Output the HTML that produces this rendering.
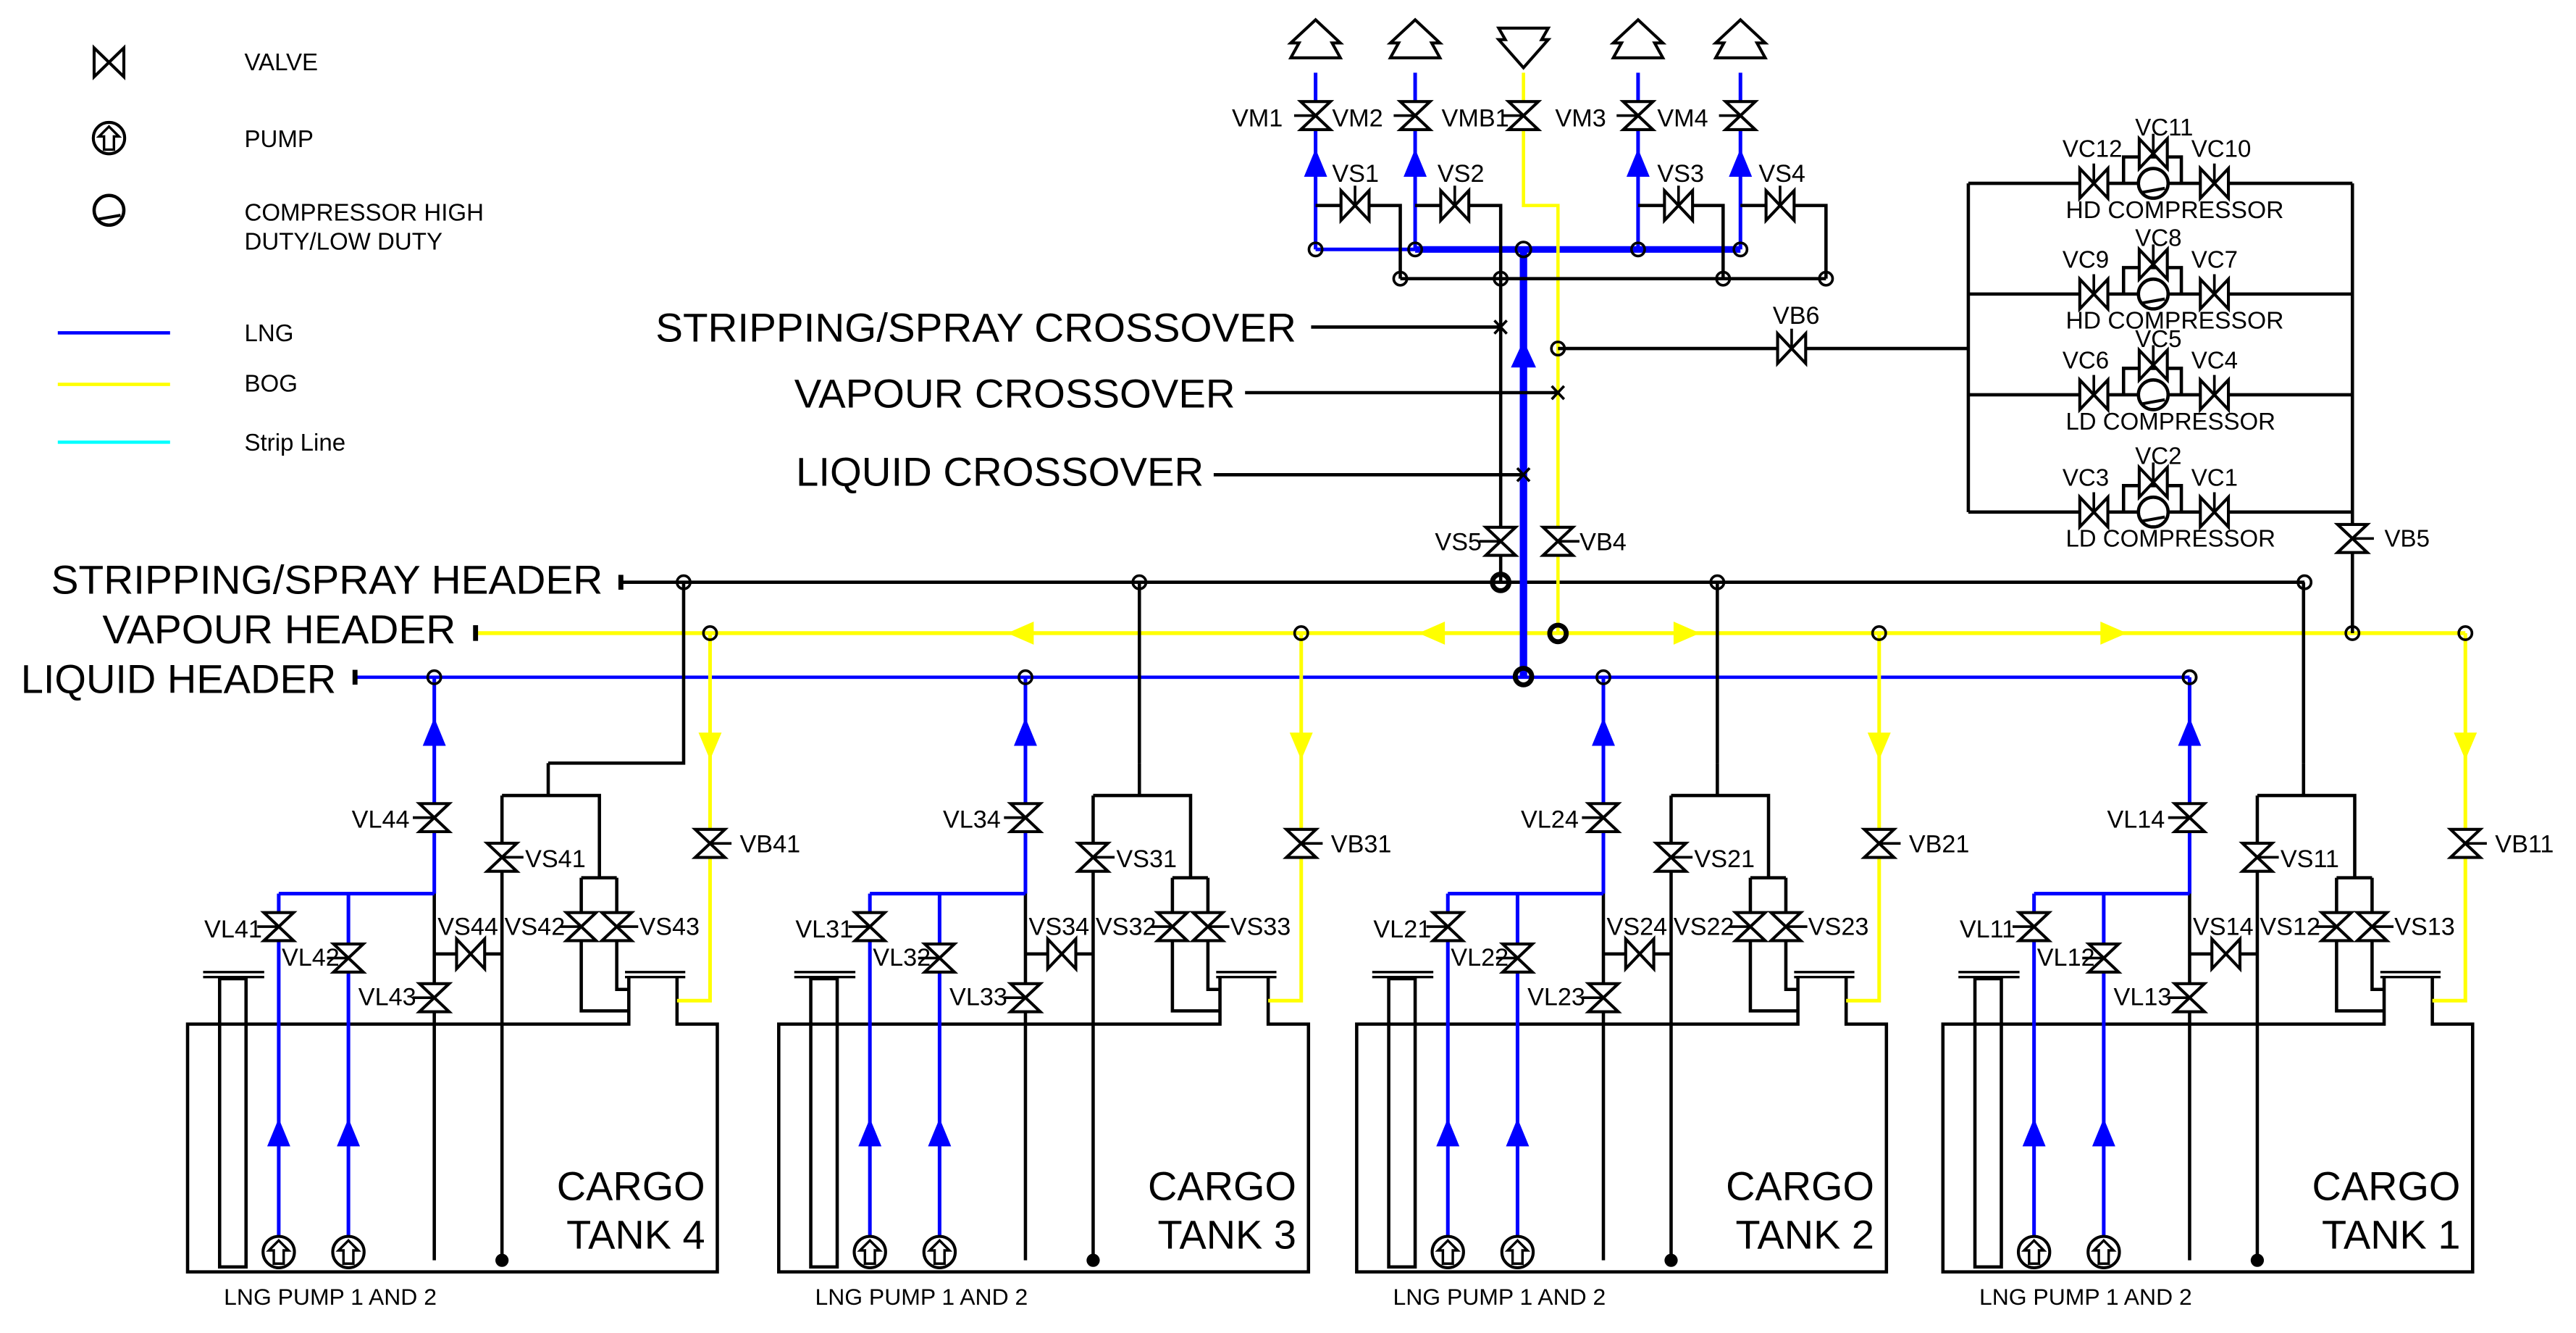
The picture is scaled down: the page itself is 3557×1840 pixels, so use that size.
<!DOCTYPE html>
<html><head><meta charset="utf-8"><style>
html,body{margin:0;padding:0;background:#fff;}
svg{display:block;}
text{font-family:"Liberation Sans",Arial,sans-serif;fill:#000;}
</style></head><body>
<svg width="3557" height="1840" viewBox="0 0 1560 807" preserveAspectRatio="none" xmlns="http://www.w3.org/2000/svg" xmlns:xlink="http://www.w3.org/1999/xlink">
<defs>
<g id="vv"><polygon points="-9,-8.5 9,-8.5 -9,8.5 9,8.5" fill="#fff" stroke="#000" stroke-width="1.8"/></g>
<g id="vvL"><use href="#vv"/><line x1="-13" y1="0" x2="0" y2="0" stroke="#000" stroke-width="1.6"/></g>
<g id="vvR"><use href="#vv"/><line x1="0" y1="0" x2="13" y2="0" stroke="#000" stroke-width="1.6"/></g>
<g id="vh"><polygon points="-8.5,-9 -8.5,9 8.5,-9 8.5,9" fill="#fff" stroke="#000" stroke-width="1.8"/></g>
<g id="vhU"><use href="#vh"/><line x1="0" y1="-12" x2="0" y2="0" stroke="#000" stroke-width="1.6"/></g>
<g id="pump"><circle r="9.5" fill="#fff" stroke="#000" stroke-width="1.8"/><polygon points="0,-7 -6,-1 -3,-1 -3,7 3,7 3,-1 6,-1" fill="none" stroke="#000" stroke-width="1.5"/></g>
<g id="comp"><circle r="9" fill="#fff" stroke="#000" stroke-width="2"/><line x1="-7" y1="5.5" x2="7" y2="3" stroke="#000" stroke-width="1.8"/></g>
<g id="ventU"><polygon points="0,0 -15,14 -10,14 -15,23 15,23 10,14 15,14" fill="#fff" stroke="#000" stroke-width="1.8"/></g>
<g id="ventD"><polygon points="-15,0 15,0 11,7 15,7 0,24 -15,7 -11,7" fill="#fff" stroke="#000" stroke-width="1.8"/></g>
<g id="tank">
  <path d="M380.8,591 V620 H113.6 V770 H434.4 V620 H410 V591" fill="none" stroke="#000" stroke-width="2"/>
  <line x1="378.5" y1="588.5" x2="415" y2="588.5" stroke="#000" stroke-width="1.5"/>
  <line x1="378.5" y1="591.5" x2="415" y2="591.5" stroke="#000" stroke-width="1.5"/>
  <rect x="133" y="592.5" width="16" height="174.5" fill="none" stroke="#000" stroke-width="2"/>
  <line x1="123" y1="588.5" x2="160" y2="588.5" stroke="#000" stroke-width="1.5"/>
  <line x1="123" y1="591.5" x2="160" y2="591.5" stroke="#000" stroke-width="1.5"/>
  <g stroke="#000" stroke-width="2" fill="none">
    <line x1="263" y1="541" x2="263" y2="763"/>
    <line x1="263" y1="577.5" x2="304" y2="577.5"/>
    <line x1="304" y1="481.6" x2="304" y2="762"/>
    <polyline points="304,481.6 363,481.6 363,531.4"/>
    <polyline points="352,531.4 373.5,531.4"/>
    <polyline points="352,531.4 352,612 380.8,612"/>
    <polyline points="373.5,531.4 373.5,599 380.8,599"/>
    <line x1="332" y1="481.6" x2="332" y2="462"/>
  </g>
  <circle cx="304" cy="763" r="4" fill="#000"/>
  <g stroke="#0000ff" stroke-width="2.2" fill="none">
    <line x1="168.8" y1="541" x2="168.8" y2="749"/>
    <line x1="211" y1="541" x2="211" y2="749"/>
    <line x1="168.8" y1="541" x2="263" y2="541"/>
    <line x1="263" y1="410" x2="263" y2="541"/>
  </g>
  <polygon points="168.8,677 161.8,694 175.8,694" fill="#0000ff"/>
  <polygon points="211,677 204,694 218,694" fill="#0000ff"/>
  <polygon points="263,434.5 256,451.5 270,451.5" fill="#0000ff"/>
  <polyline points="430,383.3 430,605.8 410,605.8" fill="none" stroke="#ffff00" stroke-width="2.2"/>
  <polygon points="430,460 423,443.5 437,443.5" fill="#ffff00"/>
  <use href="#vvL" x="263" y="495"/>
  <use href="#vvL" x="168.8" y="561"/>
  <use href="#vvL" x="211" y="580"/>
  <use href="#vvL" x="263" y="604"/>
  <use href="#vvR" x="304" y="519"/>
  <use href="#vvL" x="352" y="561"/>
  <use href="#vvR" x="373.5" y="561"/>
  <use href="#vvR" x="430" y="510.6"/>
  <use href="#vh" x="285" y="577.5"/>
  <use href="#pump" x="168.8" y="758"/>
  <use href="#pump" x="211" y="758"/>
  <circle cx="263" cy="410" r="4" fill="none" stroke="#000" stroke-width="1.6"/>
  <circle cx="430" cy="383.3" r="4" fill="none" stroke="#000" stroke-width="1.6"/>
</g>
</defs>
<rect x="0" y="0" width="1560" height="807" fill="#fff"/>

<polygon points="57,29 57,46.5 75,29 75,46.5" fill="#fff" stroke="#000" stroke-width="1.8"/>
<use href="#pump" x="66" y="83.6"/>
<use href="#comp" x="66" y="127.3"/>
<g font-size="14.5">
<text x="148" y="42.5">VALVE</text>
<text x="148" y="89">PUMP</text>
<text x="148" y="133.5">COMPRESSOR HIGH</text>
<text x="148" y="151">DUTY/LOW DUTY</text>
<text x="148" y="206.5">LNG</text>
<text x="148" y="237">BOG</text>
<text x="148" y="272.8">Strip Line</text>
</g>
<line x1="35" y1="201.5" x2="103" y2="201.5" stroke="#0000ff" stroke-width="2"/>
<line x1="35" y1="232.7" x2="103" y2="232.7" stroke="#ffff00" stroke-width="2"/>
<line x1="35" y1="267.7" x2="103" y2="267.7" stroke="#00ffff" stroke-width="2"/>

<g font-size="24.5">
<text x="31" y="359.4" textLength="334" lengthAdjust="spacingAndGlyphs">STRIPPING/SPRAY HEADER</text>
<text x="62" y="389.4" textLength="214" lengthAdjust="spacingAndGlyphs">VAPOUR HEADER</text>
<text x="12.6" y="419.6" textLength="191" lengthAdjust="spacingAndGlyphs">LIQUID HEADER</text>
<text x="397" y="206.8" textLength="388" lengthAdjust="spacingAndGlyphs">STRIPPING/SPRAY CROSSOVER</text>
<text x="481" y="246.6" textLength="267" lengthAdjust="spacingAndGlyphs">VAPOUR CROSSOVER</text>
<text x="482" y="294" textLength="247" lengthAdjust="spacingAndGlyphs">LIQUID CROSSOVER</text>
</g>

<line x1="376" y1="352.5" x2="1395.6" y2="352.5" stroke="#000" stroke-width="2"/>
<line x1="376" y1="348" x2="376" y2="357" stroke="#000" stroke-width="3"/>
<line x1="288" y1="383.3" x2="1493" y2="383.3" stroke="#ffff00" stroke-width="2.4"/>
<line x1="288" y1="378.5" x2="288" y2="388" stroke="#000" stroke-width="3"/>
<line x1="215" y1="410" x2="1326" y2="410" stroke="#0000ff" stroke-width="2"/>
<line x1="215" y1="405.5" x2="215" y2="414.5" stroke="#000" stroke-width="3"/>
<polygon points="859,383.3 875,376.3 875,390.3" fill="#ffff00"/>
<polygon points="610,383.3 626,376.3 626,390.3" fill="#ffff00"/>
<polygon points="1029.5,383.3 1013.5,376.3 1013.5,390.3" fill="#ffff00"/>
<polygon points="1288,383.3 1272,376.3 1272,390.3" fill="#ffff00"/>

<use href="#tank" x="0"/>
<use href="#tank" x="358"/>
<use href="#tank" x="708"/>
<use href="#tank" x="1063"/>
<polyline points="332,462 414,462 414,352.5" fill="none" stroke="#000" stroke-width="2"/>
<line x1="690" y1="462" x2="690" y2="352.5" stroke="#000" stroke-width="2"/>
<line x1="1040" y1="462" x2="1040" y2="352.5" stroke="#000" stroke-width="2"/>
<line x1="1395" y1="462" x2="1395" y2="352.5" stroke="#000" stroke-width="2"/>
<g fill="none" stroke="#000" stroke-width="1.6">
<circle cx="414" cy="352.5" r="4"/><circle cx="690" cy="352.5" r="4"/><circle cx="1040" cy="352.5" r="4"/><circle cx="1395.6" cy="352.5" r="4"/>
</g>

<g font-size="15">
<g transform="translate(0,0)">
<text x="213" y="501">VL44</text><text x="318" y="525">VS41</text><text x="448" y="516">VB41</text>
<text x="123.7" y="567.6">VL41</text><text x="170.6" y="584.6">VL42</text><text x="217" y="608.5">VL43</text>
<text x="265" y="566">VS44</text><text x="305.5" y="566">VS42</text><text x="387" y="566">VS43</text>
<text x="135.6" y="790" font-size="14">LNG PUMP 1 AND 2</text>
<text x="427" y="726.6" font-size="24.5" text-anchor="end">CARGO</text>
<text x="427" y="756" font-size="24.5" text-anchor="end">TANK 4</text>
</g>
<g transform="translate(358,0)">
<text x="213" y="501">VL34</text><text x="318" y="525">VS31</text><text x="448" y="516">VB31</text>
<text x="123.7" y="567.6">VL31</text><text x="170.6" y="584.6">VL32</text><text x="217" y="608.5">VL33</text>
<text x="265" y="566">VS34</text><text x="305.5" y="566">VS32</text><text x="387" y="566">VS33</text>
<text x="135.6" y="790" font-size="14">LNG PUMP 1 AND 2</text>
<text x="427" y="726.6" font-size="24.5" text-anchor="end">CARGO</text>
<text x="427" y="756" font-size="24.5" text-anchor="end">TANK 3</text>
</g>
<g transform="translate(708,0)">
<text x="213" y="501">VL24</text><text x="318" y="525">VS21</text><text x="448" y="516">VB21</text>
<text x="123.7" y="567.6">VL21</text><text x="170.6" y="584.6">VL22</text><text x="217" y="608.5">VL23</text>
<text x="265" y="566">VS24</text><text x="305.5" y="566">VS22</text><text x="387" y="566">VS23</text>
<text x="135.6" y="790" font-size="14">LNG PUMP 1 AND 2</text>
<text x="427" y="726.6" font-size="24.5" text-anchor="end">CARGO</text>
<text x="427" y="756" font-size="24.5" text-anchor="end">TANK 2</text>
</g>
<g transform="translate(1063,0)">
<text x="213" y="501">VL14</text><text x="318" y="525">VS11</text><text x="448" y="516">VB11</text>
<text x="123.7" y="567.6">VL11</text><text x="170.6" y="584.6">VL12</text><text x="217" y="608.5">VL13</text>
<text x="265" y="566">VS14</text><text x="305.5" y="566">VS12</text><text x="387" y="566">VS13</text>
<text x="135.6" y="790" font-size="14">LNG PUMP 1 AND 2</text>
<text x="427" y="726.6" font-size="24.5" text-anchor="end">CARGO</text>
<text x="427" y="756" font-size="24.5" text-anchor="end">TANK 1</text>
</g>
</g>

<use href="#ventU" x="796.7" y="12"/>
<use href="#ventU" x="857" y="12"/>
<use href="#ventD" x="922.6" y="17"/>
<use href="#ventU" x="992" y="12"/>
<use href="#ventU" x="1054" y="12"/>
<g stroke="#0000ff" stroke-width="2.2" fill="none">
<line x1="796.7" y1="44" x2="796.7" y2="151"/>
<line x1="857" y1="44" x2="857" y2="151"/>
<line x1="992" y1="44" x2="992" y2="151"/>
<line x1="1054" y1="44" x2="1054" y2="151"/>
<line x1="796.7" y1="151" x2="857" y2="151"/>
</g>
<line x1="857" y1="151" x2="1054" y2="151" stroke="#0000ff" stroke-width="4"/>
<line x1="922.6" y1="151" x2="922.6" y2="409.6" stroke="#0000ff" stroke-width="4.5"/>
<polygon points="922.6,206 915,222.5 930.2,222.5" fill="#0000ff"/>
<polygon points="796.7,90 789.7,107 803.7,107" fill="#0000ff"/>
<polygon points="857,90 850,107 864,107" fill="#0000ff"/>
<polygon points="992,90 985,107 999,107" fill="#0000ff"/>
<polygon points="1054,90 1047,107 1061,107" fill="#0000ff"/>
<polyline points="922.6,44 922.6,124.4 943.5,124.4 943.5,383.5" fill="none" stroke="#ffff00" stroke-width="2"/>
<g stroke="#000" stroke-width="2" fill="none">
<polyline points="796.7,124.4 848,124.4 848,168.7"/>
<polyline points="857,124.4 908.8,124.4 908.8,352.6"/>
<polyline points="992,124.4 1043.5,124.4 1043.5,168.7"/>
<polyline points="1054,124.4 1105.8,124.4 1105.8,168.7"/>
<line x1="848" y1="168.7" x2="1105.8" y2="168.7"/>
<line x1="943.5" y1="211" x2="1192" y2="211"/>
<line x1="794" y1="198" x2="908.8" y2="198"/>
<line x1="754" y1="237.7" x2="943.5" y2="237.7"/>
<line x1="735" y1="287.4" x2="922.6" y2="287.4"/>
</g>
<g stroke="#000" stroke-width="1.6">
<path d="M905,194 l7.5,8 M912.5,194 l-7.5,8"/>
<path d="M939.7,233.7 l7.5,8 M947.2,233.7 l-7.5,8"/>
<path d="M918.8,283.4 l7.5,8 M926.3,283.4 l-7.5,8"/>
</g>
<g fill="none" stroke="#000" stroke-width="1.6">
<circle cx="796.7" cy="151" r="4"/><circle cx="857" cy="151" r="4"/><circle cx="922.6" cy="151" r="4.5"/><circle cx="992" cy="151" r="4"/><circle cx="1054" cy="151" r="4"/>
<circle cx="848" cy="168.7" r="4"/><circle cx="908.8" cy="168.7" r="4"/><circle cx="1043.5" cy="168.7" r="4"/><circle cx="1105.8" cy="168.7" r="4"/>
<circle cx="943.5" cy="211" r="4"/>
<circle cx="1424.6" cy="383.3" r="4"/><circle cx="1326" cy="410" r="4"/>
</g>
<g fill="none" stroke="#000" stroke-width="3">
<circle cx="908.8" cy="352.6" r="5"/><circle cx="943.5" cy="383.5" r="5"/><circle cx="922.6" cy="409.6" r="5"/>
</g>
<use href="#vvL" x="796.7" y="70"/>
<use href="#vvL" x="857" y="70"/>
<use href="#vvL" x="922.6" y="70"/>
<use href="#vvL" x="992" y="70"/>
<use href="#vvL" x="1054" y="70"/>
<use href="#vhU" x="820.6" y="124.4"/>
<use href="#vhU" x="881" y="124.4"/>
<use href="#vhU" x="1016.5" y="124.4"/>
<use href="#vhU" x="1078" y="124.4"/>
<use href="#vvL" x="908.8" y="327.7"/>
<use href="#vvR" x="943.5" y="327.7"/>
<use href="#vhU" x="1085" y="211"/>
<g font-size="15">
<text x="746" y="76.5">VM1</text><text x="806.7" y="76.5">VM2</text><text x="873" y="76.5">VMB1</text>
<text x="941.8" y="76.5">VM3</text><text x="1003.6" y="76.5">VM4</text>
<text x="806.7" y="110">VS1</text><text x="870.5" y="110">VS2</text><text x="1003.6" y="110">VS3</text><text x="1065" y="110">VS4</text>
<text x="869" y="333">VS5</text><text x="956.6" y="333">VB4</text><text x="1073.6" y="196">VB6</text>
</g>

<g stroke="#000" stroke-width="2" fill="none">
<line x1="1192" y1="111" x2="1192" y2="310"/>
<line x1="1424.6" y1="111" x2="1424.6" y2="383.3"/>
<line x1="1192" y1="111" x2="1424.6" y2="111"/>
<line x1="1192" y1="178" x2="1424.6" y2="178"/>
<line x1="1192" y1="239" x2="1424.6" y2="239"/>
<line x1="1192" y1="310" x2="1424.6" y2="310"/>
<polyline points="1286,111 1286,95 1321,95 1321,111"/>
<polyline points="1286,178 1286,162 1321,162 1321,178"/>
<polyline points="1286,239 1286,223 1321,223 1321,239"/>
<polyline points="1286,310 1286,294 1321,294 1321,310"/>
</g>
<g>
<use href="#vhU" x="1268" y="111"/><use href="#comp" x="1304" y="111"/><use href="#vhU" x="1341" y="111"/><use href="#vhU" x="1304" y="93"/>
<use href="#vhU" x="1268" y="178"/><use href="#comp" x="1304" y="178"/><use href="#vhU" x="1341" y="178"/><use href="#vhU" x="1304" y="160"/>
<use href="#vhU" x="1268" y="239"/><use href="#comp" x="1304" y="239"/><use href="#vhU" x="1341" y="239"/><use href="#vhU" x="1304" y="221"/>
<use href="#vhU" x="1268" y="310"/><use href="#comp" x="1304" y="310"/><use href="#vhU" x="1341" y="310"/><use href="#vhU" x="1304" y="292"/>
<use href="#vvR" x="1424.6" y="326"/>
</g>
<g font-size="14.5">
<text x="1249" y="95">VC12</text><text x="1293" y="82">VC11</text><text x="1327" y="95">VC10</text>
<text x="1251" y="132" textLength="132" lengthAdjust="spacingAndGlyphs">HD COMPRESSOR</text>
<text x="1249" y="162">VC9</text><text x="1293" y="149">VC8</text><text x="1327" y="162">VC7</text>
<text x="1251" y="199" textLength="132" lengthAdjust="spacingAndGlyphs">HD COMPRESSOR</text>
<text x="1249" y="223">VC6</text><text x="1293" y="210">VC5</text><text x="1327" y="223">VC4</text>
<text x="1251" y="260" textLength="127" lengthAdjust="spacingAndGlyphs">LD COMPRESSOR</text>
<text x="1249" y="294">VC3</text><text x="1293" y="281">VC2</text><text x="1327" y="294">VC1</text>
<text x="1251" y="331" textLength="127" lengthAdjust="spacingAndGlyphs">LD COMPRESSOR</text>
<text x="1444" y="331">VB5</text>
</g>
</svg>
</body></html>
